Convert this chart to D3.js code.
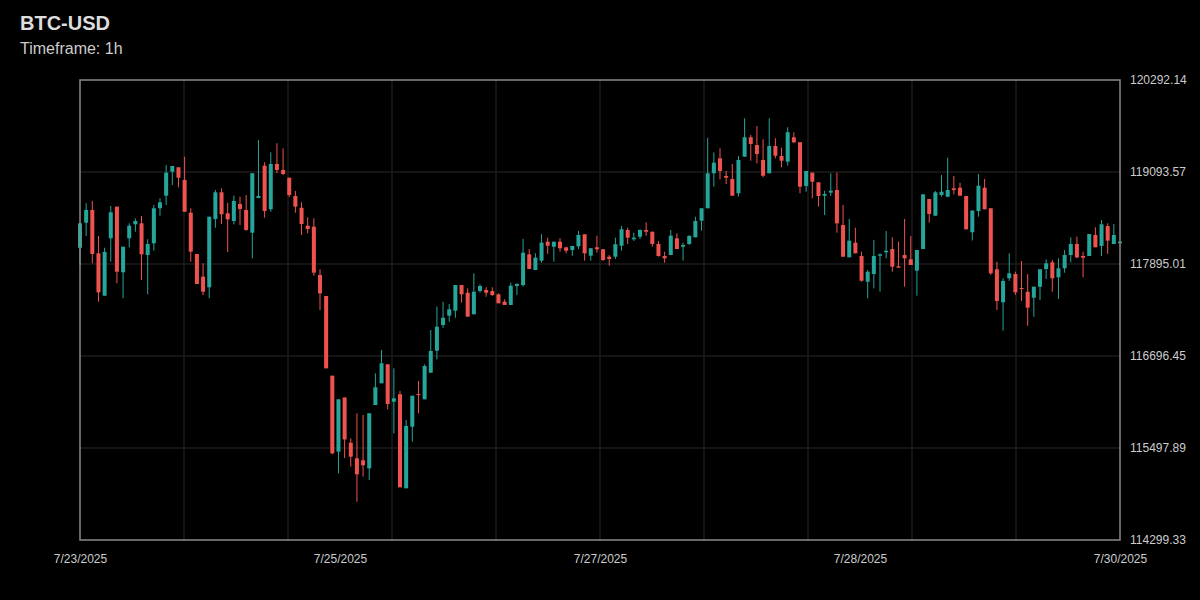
<!DOCTYPE html>
<html>
<head>
<meta charset="utf-8">
<title>BTC-USD</title>
<script src="https://cdn.jsdelivr.net/npm/d3@7"></script>
<style>
  html, body { margin: 0; padding: 0; background: #000; }
  body { width: 1200px; height: 600px; overflow: hidden; }
  text { font-family: "Liberation Sans", Arial, sans-serif; }
</style>
</head>
<body>
<div id="chart"></div>
<script>
// hourly candles
const openPrices = [
  118107, 118433, 118599, 118034, 117482, 118230, 118642, 117787, 118230, 118412,
  118425, 118012, 118165, 118621, 118785, 119097, 119155, 118989, 118563, 118025,
  117730, 117592, 118481, 118829, 118556, 118455, 118677, 118599, 118303, 118755,
  119176, 118608, 119198, 119120, 119019, 118781, 118628, 118394, 118381, 117752,
  117478, 116440, 115450, 116156, 115567, 115364, 115338, 115233, 116058, 116341,
  116588, 116101, 116198, 114973, 115775, 116201, 116132, 116479, 116766, 117100,
  117222, 117287, 117621, 117521, 117240, 117543, 117556, 117543, 117500, 117404,
  117361, 117608, 117621, 118021, 117817, 117938, 118186, 118120, 118186, 118113,
  118077, 118126, 118282, 118003, 118113, 118087, 117990, 117990, 118133, 118338,
  118217, 118251, 118338, 118316, 118156, 117999, 118012, 118230, 118120, 118156,
  118243, 118459, 118621, 119077, 119272, 119042, 119002, 118816, 119293, 119546,
  119445, 119250, 119077, 119432, 119302, 119228, 119546, 119481, 118911, 119085,
  118959, 118785, 118824, 118859, 118403, 117982, 118173, 117999, 117664, 117765,
  118003, 118047, 118090, 117865, 118012, 117956, 117808, 118090, 118742, 118524,
  118794, 118772, 118881, 118889, 118781, 118308, 118585, 118889, 118621, 117826,
  117396, 117709, 117765, 117582, 117534, 117456, 117599, 117830, 117917, 117722,
  117839, 118012, 118156, 117999, 117999, 118273, 118130, 118390, 118156, 118165
];
const highPrices = [
  118429, 118686, 118716, 118260, 118107, 118651, 118642, 118120, 118425, 118490,
  118520, 118217, 118664, 118751, 119185, 119172, 119155, 119293, 118621, 118025,
  117904, 118511, 118859, 118881, 118694, 118785, 118772, 118794, 119077, 119511,
  119220, 119350, 119468, 119402, 119019, 118846, 118699, 118503, 118490, 117826,
  117478, 116440, 116132, 116156, 115624, 115950, 115928, 115950, 116471, 116775,
  116588, 116536, 116241, 115863, 116179, 116371, 116588, 117035, 117339, 117404,
  117374, 117621, 117621, 117578, 117774, 117631, 117592, 117592, 117513, 117435,
  117651, 117644, 118221, 118090, 118034, 118282, 118238, 118186, 118230, 118113,
  118130, 118325, 118282, 118100, 118264, 118087, 118012, 118238, 118390, 118368,
  118303, 118347, 118438, 118316, 118195, 118055, 118338, 118295, 118173, 118273,
  118511, 118621, 119540, 119350, 119402, 119107, 119198, 119302, 119793, 119576,
  119693, 119520, 119793, 119533, 119410, 119676, 119611, 119481, 119107, 119085,
  118959, 118850, 119077, 119085, 118664, 118481, 118368, 118055, 117817, 118208,
  118034, 118325, 118243, 118186, 118481, 118260, 118077, 118803, 118742, 118846,
  119054, 119280, 119042, 118954, 118781, 118592, 119068, 119002, 118621, 117925,
  117709, 118034, 117795, 117934, 117765, 117599, 117826, 117956, 117947, 117969,
  118077, 118243, 118251, 118055, 118286, 118373, 118468, 118425, 118416, 118186
];
const lowPrices = [
  117882, 118260, 117904, 117404, 117482, 117925, 117644, 117448, 118113, 118316,
  117687, 117500, 118068, 118524, 118664, 118924, 118894, 118576, 117925, 117635,
  117491, 117448, 118368, 118416, 118051, 118412, 118403, 118329, 117969, 118751,
  118498, 118576, 119077, 119054, 118768, 118563, 118273, 118295, 117743, 117296,
  116536, 115416, 115168, 115368, 115254, 114798, 115124, 115081, 116058, 116341,
  116002, 115689, 114986, 114973, 115580, 115950, 116132, 116479, 116653, 117065,
  117143, 117195, 117391, 117209, 117240, 117521, 117469, 117478, 117383, 117361,
  117361, 117491, 117599, 117830, 117817, 117912, 118025, 117925, 118055, 118034,
  118003, 118090, 117938, 117938, 118042, 117934, 117873, 117960, 118068, 118156,
  118195, 118221, 118264, 118120, 117990, 117912, 118012, 118090, 117938, 118143,
  118243, 118329, 118621, 118902, 118999, 118937, 118785, 118772, 119293, 119241,
  119207, 119025, 119077, 119272, 119155, 119176, 119468, 118816, 118837, 118751,
  118642, 118533, 118781, 118303, 117990, 117982, 118034, 117664, 117448, 117578,
  117534, 117969, 117795, 117847, 117599, 117882, 117482, 118090, 118433, 118524,
  118772, 118764, 118803, 118785, 118347, 118201, 118511, 118608, 117752, 117296,
  117026, 117674, 117491, 117413, 117091, 117209, 117426, 117700, 117534, 117439,
  117782, 117917, 117969, 117722, 117999, 118113, 117999, 118025, 118156, 118165
];
const closePrices = [
  118425, 118599, 118025, 117526, 118051, 118569, 117795, 118120, 118394, 118455,
  118021, 118156, 118621, 118699, 119085, 119172, 119019, 118576, 118055, 117635,
  117534, 118511, 118829, 118543, 118477, 118716, 118612, 118338, 119077, 118781,
  118585, 119198, 119120, 119068, 118794, 118642, 118416, 118351, 117782, 117513,
  116536, 115429, 116132, 115609, 115385, 115155, 115273, 115950, 116289, 116601,
  116071, 116145, 114986, 115785, 116179, 116191, 116566, 116762, 117078, 117195,
  117305, 117621, 117500, 117209, 117534, 117608, 117521, 117491, 117383, 117361,
  117612, 117635, 118042, 117830, 117977, 118173, 118133, 118186, 118100, 118068,
  118130, 118273, 118034, 118100, 118087, 117947, 117960, 118152, 118347, 118238,
  118238, 118338, 118316, 118156, 117999, 117969, 118264, 118090, 118143, 118260,
  118455, 118621, 119077, 119215, 119107, 119019, 118785, 119250, 119546, 119458,
  119328, 119045, 119432, 119306, 119241, 119611, 119481, 118902, 119107, 118967,
  118781, 118807, 118850, 118425, 117990, 118199, 118034, 117677, 117795, 117999,
  118021, 118068, 117860, 117847, 117969, 117882, 118077, 118803, 118546, 118829,
  118837, 118859, 118859, 118785, 118347, 118592, 118915, 118608, 117774, 117413,
  117674, 117774, 117526, 117575, 117326, 117599, 117826, 117904, 117709, 117839,
  118012, 118156, 117982, 117977, 118286, 118113, 118412, 118199, 118273, 118186
];

const dateLabels = ["7/23/2025", "7/25/2025", "7/27/2025", "7/28/2025", "7/30/2025"];
const yTickValues = [114299.33, 115497.89, 116696.45, 117895.01, 119093.57, 120292.14];

const upColor = "#26a69a";
const downColor = "#ef5350";

const width = 1200;
const height = 600;
const margin = {top: 80, right: 80, bottom: 60, left: 80};

const candles = openPrices.map((o, i) => ({
  i: i,
  open: o,
  high: highPrices[i],
  low: lowPrices[i],
  close: closePrices[i]
}));

const svg = d3.select("#chart")
  .append("svg")
  .attr("width", width)
  .attr("height", height)
  .style("background", "#000");

svg.append("text")
  .attr("x", 20)
  .attr("y", 30)
  .attr("fill", "#dddddd")
  .attr("font-size", "20px")
  .attr("font-weight", "bold")
  .text("BTC-USD");

svg.append("text")
  .attr("x", 20)
  .attr("y", 54)
  .attr("fill", "#cccccc")
  .attr("font-size", "16px")
  .text("Timeframe: 1h");

const x = d3.scaleLinear()
  .domain([0, candles.length - 1])
  .range([margin.left, width - margin.right]);

const y = d3.scaleLinear()
  .domain([yTickValues[0], yTickValues[yTickValues.length - 1]])
  .range([height - margin.bottom, margin.top]);

// grid
const gridColor = "#1b1b1b";
const xGrid = d3.range(1, 10).map(k => k * (candles.length - 1) / 10);
svg.append("g")
  .selectAll("line")
  .data(xGrid)
  .join("line")
  .attr("x1", d => x(d))
  .attr("x2", d => x(d))
  .attr("y1", margin.top)
  .attr("y2", height - margin.bottom)
  .attr("stroke", gridColor)
  .attr("stroke-width", 1.5);

svg.append("g")
  .selectAll("line")
  .data(yTickValues.slice(1, -1))
  .join("line")
  .attr("x1", margin.left)
  .attr("x2", width - margin.right)
  .attr("y1", d => y(d))
  .attr("y2", d => y(d))
  .attr("stroke", gridColor)
  .attr("stroke-width", 1.5);

// candles
const bodyWidth = 4;
const g = svg.append("g");

g.selectAll("line.wick")
  .data(candles)
  .join("line")
  .attr("class", "wick")
  .attr("x1", d => x(d.i))
  .attr("x2", d => x(d.i))
  .attr("y1", d => y(d.high))
  .attr("y2", d => y(d.low))
  .attr("stroke", d => d.close >= d.open ? upColor : downColor)
  .attr("stroke-width", 1);

g.selectAll("rect.body")
  .data(candles)
  .join("rect")
  .attr("class", "body")
  .attr("x", d => x(d.i) - bodyWidth / 2)
  .attr("y", d => y(Math.max(d.open, d.close)))
  .attr("width", bodyWidth)
  .attr("height", d => Math.max(1, Math.abs(y(d.open) - y(d.close))))
  .attr("fill", d => d.close >= d.open ? upColor : downColor);

// frame
svg.append("rect")
  .attr("x", margin.left)
  .attr("y", margin.top)
  .attr("width", width - margin.left - margin.right)
  .attr("height", height - margin.top - margin.bottom)
  .attr("fill", "none")
  .attr("stroke", "#8a8a8a")
  .attr("stroke-width", 1.5);

// axes
const xTicks = dateLabels.map((d, k) => k * (candles.length - 1) / (dateLabels.length - 1));
const xAxis = svg.append("g")
  .attr("transform", `translate(0, ${height - margin.bottom})`)
  .call(d3.axisBottom(x)
    .tickValues(xTicks)
    .tickFormat((d, k) => dateLabels[k])
    .tickSize(0)
    .tickPadding(14));

const yAxis = svg.append("g")
  .attr("transform", `translate(${width - margin.right}, 0)`)
  .call(d3.axisRight(y)
    .tickValues(yTickValues)
    .tickFormat(d => d.toFixed(2))
    .tickSize(0)
    .tickPadding(10));

[xAxis, yAxis].forEach(a => {
  a.select(".domain").remove();
  a.selectAll("text")
    .attr("fill", "#cccccc")
    .attr("font-size", "12px")
    .attr("font-family", "'Liberation Sans', Arial, sans-serif");
});
</script>
</body>
</html>
